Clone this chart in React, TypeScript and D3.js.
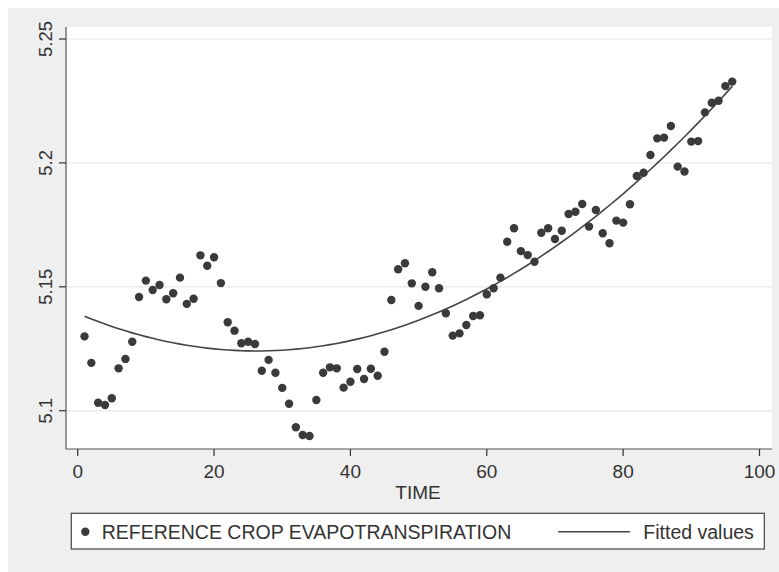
import React from "react";
import * as d3 from "d3";

const time: number[] = Array.from({ length: 96 }, (_, i) => i + 1);
const et: number[] = [
  5.130, 5.1193, 5.1032, 5.1023, 5.105, 5.1171, 5.1209, 5.1278, 5.1459, 5.1525,
  5.1487, 5.1507, 5.1450, 5.1474, 5.1537, 5.1431, 5.1452, 5.1627, 5.1585, 5.1619,
  5.1515, 5.1357, 5.1323, 5.1272, 5.1278, 5.1269, 5.1161, 5.1205, 5.1153, 5.1092,
  5.1028, 5.0933, 5.0902, 5.0898, 5.1043, 5.1153, 5.1175, 5.1171, 5.1093, 5.1117,
  5.1168, 5.1128, 5.1169, 5.1141, 5.1238, 5.1447, 5.1571, 5.1595, 5.1514, 5.1423,
  5.1500, 5.1559, 5.1494, 5.1393, 5.1303, 5.1312, 5.1346, 5.1382, 5.1385, 5.1470,
  5.1494, 5.1537, 5.1682, 5.1736, 5.1644, 5.1628, 5.1601, 5.1718, 5.1736, 5.1693,
  5.1726, 5.1794, 5.1803, 5.1834, 5.1743, 5.1810, 5.1716, 5.1676, 5.1767, 5.1759,
  5.1833, 5.1947, 5.1960, 5.2032, 5.2099, 5.2102, 5.2149, 5.1985, 5.1965, 5.2086,
  5.2088, 5.2204, 5.2243, 5.2251, 5.2310, 5.2328,
];
const xTicks: number[] = [0, 20, 40, 60, 80, 100];
const yTicks: number[] = [5.1, 5.15, 5.2, 5.25];
const yTickLabels: string[] = ["5.1", "5.15", "5.2", "5.25"];
const xTitle = "TIME";
const legendLabels: string[] = ["REFERENCE CROP EVAPOTRANSPIRATION", "Fitted values"];

// quadratic least-squares fit (Stata qfit) computed from the data
function qfit(xs: number[], ys: number[]): (x: number) => number {
  const n = xs.length;
  const s = [0, 0, 0, 0, 0];
  const t = [0, 0, 0];
  for (let i = 0; i < n; i++) {
    const x = xs[i], y = ys[i];
    for (let k = 0; k < 5; k++) s[k] += Math.pow(x, k);
    for (let k = 0; k < 3; k++) t[k] += Math.pow(x, k) * y;
  }
  const A = [
    [s[0], s[1], s[2], t[0]],
    [s[1], s[2], s[3], t[1]],
    [s[2], s[3], s[4], t[2]],
  ];
  for (let c = 0; c < 3; c++) {
    for (let r = c + 1; r < 3; r++) {
      const f = A[r][c] / A[c][c];
      for (let k = c; k < 4; k++) A[r][k] -= f * A[c][k];
    }
  }
  const b = [0, 0, 0];
  for (let r = 2; r >= 0; r--) {
    let v = A[r][3];
    for (let k = r + 1; k < 3; k++) v -= A[r][k] * b[k];
    b[r] = v / A[r][r];
  }
  return (x: number) => b[0] + b[1] * x + b[2] * x * x;
}

export default function App() {
  const W = 771, H = 564;
  const off = 8;
  const left = 66 - off, right = 772 - off, top = 27 - off, bottom = 449 - off;
  const x = d3.scaleLinear().domain([0, 100]).range([77.7 - off, 759.5 - off]);
  const y = d3.scaleLinear().domain([5.1, 5.25]).range([410.7 - off, 39 - off]);
  const f = qfit(time, et);
  const fitted = time.map((t) => f(t));
  const line = d3
    .line<number>()
    .x((_, i) => x(time[i]))
    .y((d) => y(d))
    .curve(d3.curveMonotoneX);
  const font = "'Liberation Sans', Arial, sans-serif";
  const ink = "#3a3a3a";
  const lgY = 531.7 - off;
  return (
    <svg
      width={W}
      height={H}
      style={{ display: "block", position: "absolute", left: off, top: off }}
    >
      <rect x={0} y={0} width={W} height={H} fill="#efefef" />
      <rect x={left} y={top} width={right - left} height={bottom - top} fill="#ffffff" />
      {yTicks.map((v) => (
        <line key={"g" + v} x1={left} x2={right} y1={y(v)} y2={y(v)} stroke="#ececec" strokeWidth={1.5} />
      ))}
      <path d={line(fitted) || ""} fill="none" stroke="#444" strokeWidth={1.6} />
      {et.map((v, i) => (
        <circle key={i} cx={x(time[i])} cy={y(v)} r={4.2} fill={ink} />
      ))}
      <line x1={left} x2={left} y1={top} y2={bottom} stroke="#555" strokeWidth={1.2} />
      <line x1={left} x2={right} y1={bottom} y2={bottom} stroke="#555" strokeWidth={1.2} />
      {yTicks.map((v, i) => (
        <g key={"yt" + v}>
          <line x1={left - 7} x2={left} y1={y(v)} y2={y(v)} stroke="#333" strokeWidth={1.2} />
          <text
            transform={`translate(${52 - off},${y(v)}) rotate(-90)`}
            textAnchor="middle"
            fontFamily={font}
            fontSize={18.5}
            fill="#333"
          >
            {yTickLabels[i]}
          </text>
        </g>
      ))}
      {xTicks.map((v) => (
        <g key={"xt" + v}>
          <line x1={x(v)} x2={x(v)} y1={bottom} y2={bottom + 7} stroke="#333" strokeWidth={1.2} />
          <text x={x(v)} y={478.3 - off} textAnchor="middle" fontFamily={font} fontSize={19} fill="#333">
            {v}
          </text>
        </g>
      ))}
      <text x={418 - off} y={498.5 - off} textAnchor="middle" fontFamily={font} fontSize={19} fill="#333">
        {xTitle}
      </text>
      <rect x={71.3 - off} y={513.3 - off} width={693} height={35.7} fill="#fff" stroke="#444" strokeWidth={1.2} />
      <circle cx={85.3 - off} cy={lgY} r={4.2} fill={ink} />
      <text x={101.7 - off} y={538.5 - off} fontFamily={font} fontSize={19.5} fill="#333">
        {legendLabels[0]}
      </text>
      <line x1={558.3 - off} x2={630 - off} y1={lgY} y2={lgY} stroke="#444" strokeWidth={1.6} />
      <text x={643.3 - off} y={538.5 - off} fontFamily={font} fontSize={19.5} fill="#333">
        {legendLabels[1]}
      </text>
    </svg>
  );
}
